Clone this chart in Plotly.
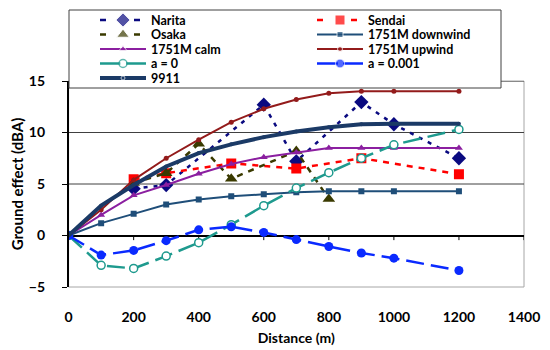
import plotly.graph_objects as go

# ---------------- data ----------------
distance = [0, 100, 200, 300, 400, 500, 600, 700, 800, 900, 1000, 1200]
upwind_1751M = [0, 2.5, 5.4, 7.5, 9.3, 11.0, 12.3, 13.2, 13.8, 14.0, 14.0, 14.0]
series_9911 = [0, 2.9, 4.9, 6.7, 8.0, 8.85, 9.55, 10.1, 10.5, 10.8, 10.85, 10.85]
calm_1751M = [0, 2.0, 3.9, 4.9, 6.0, 6.95, 7.6, 8.05, 8.5, 8.5, 8.5, 8.5]
downwind_1751M = [0, 1.2, 2.1, 3.0, 3.5, 3.8, 4.0, 4.2, 4.3, 4.3, 4.3, 4.3]
a_zero = [0, -2.9, -3.2, -2.0, -0.7, 1.05, 2.9, 4.6, 6.1, 7.5, 8.8, 10.3]
a_0001 = [0, -1.9, -1.45, -0.5, 0.55, 0.85, 0.3, -0.4, -1.07, -1.7, -2.2, -3.4]

narita_x = [200, 300, 600, 700, 900, 1000, 1200]
narita_y = [4.55, 4.9, 12.7, 7.2, 12.95, 10.8, 7.5]
sendai_x = [200, 300, 500, 700, 900, 1200]
sendai_y = [5.45, 6.05, 7.0, 6.5, 7.5, 5.95]
osaka_x = [200, 300, 400, 500, 700, 800]
osaka_y = [5.1, 6.05, 8.9, 5.5, 8.2, 3.55]

x_ticks = [0, 200, 400, 600, 800, 1000, 1200, 1400]
y_ticks = [-5, 0, 5, 10, 15]
grid_values = [5, 10, 15]

# ---------------- geometry ----------------
WIN_W, WIN_H = 550, 350
OFF = 8                      # default page margin of the html body
W, H = WIN_W - OFF, WIN_H - OFF
# plot area in window pixels
PL, PR, PT, PB = 68.6, 524.0, 81.0, 287.0
FONT = "Lato"

styles = {
    "Narita": dict(line=dict(color="#0A0A80", width=2.5, dash="4px,6px"),
                   marker=dict(symbol="diamond", size=11, color="#0A0A80")),
    "Sendai": dict(line=dict(color="#FF0000", width=2.5, dash="6px,6px"),
                   marker=dict(symbol="square", size=10, color="#FF0000")),
    "Osaka": dict(line=dict(color="#3A3A00", width=2.5, dash="6px,6px"),
                  marker=dict(symbol="triangle-up", size=11, color="#3A3A00")),
    "1751M downwind": dict(line=dict(color="#1F4E79", width=2),
                           marker=dict(symbol="square", size=6, color="#1F4E79")),
    "1751M calm": dict(line=dict(color="#8B1FA0", width=2),
                       marker=dict(symbol="triangle-up", size=7, color="#8B1FA0")),
    "1751M upwind": dict(line=dict(color="#931B1B", width=2),
                         marker=dict(symbol="circle", size=5, color="#931B1B")),
    "a = 0": dict(line=dict(color="#1E9A8E", width=2.5, dash="18px,7px"),
                  marker=dict(symbol="circle", size=8, color="white",
                              line=dict(color="#1E9A8E", width=1.5))),
    "a = 0.001": dict(line=dict(color="#0A2AFF", width=2.5, dash="18px,7px"),
                      marker=dict(symbol="circle", size=9, color="#0A2AFF")),
    "9911": dict(line=dict(color="#1B3A66", width=4),
                 marker=dict(symbol="circle", size=4, color="#1B3A66")),
}

data = [
    ("Narita", narita_x, narita_y),
    ("Sendai", sendai_x, sendai_y),
    ("Osaka", osaka_x, osaka_y),
    ("1751M downwind", distance, downwind_1751M),
    ("1751M calm", distance, calm_1751M),
    ("1751M upwind", distance, upwind_1751M),
    ("a = 0", distance, a_zero),
    ("a = 0.001", distance, a_0001),
    ("9911", distance, series_9911),
]

fig = go.Figure()
for name, xs, ys in data:
    st = styles[name]
    fig.add_trace(go.Scatter(x=xs, y=ys, name=name, mode="lines+markers",
                             line=st["line"], marker=st["marker"],
                             showlegend=False, xaxis="x", yaxis="y"))

# ---------------- custom legend (window-pixel overlay axes) ----------------
legend_rows = [20, 34.5, 49, 63.5, 78]
col_marker = [123, 340]
col_text = [149, 366]
half = 23
for i, (name, _, _) in enumerate(data):
    row, col = divmod(i, 2)
    cy = legend_rows[row]
    cx = col_marker[col]
    st = styles[name]
    ln = dict(st["line"])
    if name in ("Narita", "Sendai", "Osaka"):
        ln["dash"] = "6px,28px"
    elif name in ("a = 0", "a = 0.001"):
        ln["dash"] = "21px,5px"
    mk = dict(st["marker"])
    base = mk.get("size", 6)
    mk["size"] = [0, base, 0]
    fig.add_trace(go.Scatter(x=[cx - half, cx, cx + half], y=[cy, cy, cy],
                             mode="lines+markers", line=ln, marker=mk,
                             showlegend=False, hoverinfo="skip",
                             xaxis="x2", yaxis="y2"))
    fig.add_annotation(x=col_text[col], y=cy, xref="x2", yref="y2",
                       text=name, showarrow=False, xanchor="left",
                       yanchor="middle",
                       font=dict(family=FONT, size=12.5, color="black", weight="bold"))

shapes = []
shapes.append(dict(type="rect", xref="x domain", yref="y domain", x0=0, x1=1, y0=0, y1=1,
                   line=dict(color="#A6A6A6", width=1), layer="below"))
for g in grid_values:
    shapes.append(dict(type="line", xref="x domain", yref="y", x0=0, x1=1, y0=g, y1=g,
                       line=dict(color="#404040", width=1), layer="below"))
for t in x_ticks[1:]:
    shapes.append(dict(type="line", xref="x", yref="y", x0=t, x1=t, y0=0, y1=-0.45,
                       line=dict(color="black", width=1), layer="below"))
shapes.append(dict(type="rect", xref="x2", yref="y2", x0=69, x1=501, y0=10, y1=88,
                   fillcolor="white", line=dict(color="#404040", width=1), layer="below"))

tickfont = dict(family=FONT, size=14, color="black", weight="bold")
fig.update_layout(
    width=W, height=H,
    margin=dict(l=0, r=0, t=0, b=0, autoexpand=False),
    paper_bgcolor="white", plot_bgcolor="rgba(0,0,0,0)",
    showlegend=False,
    shapes=shapes,
    xaxis=dict(domain=[(PL - OFF) / W, (PR - OFF) / W], range=[0, 1400], tickvals=x_ticks,
               showgrid=False, zeroline=False, showline=False, ticks="",
               tickfont=tickfont, ticklabelstandoff=20, anchor="y", automargin=False,
               title=dict(text="Distance (m)", standoff=9,
                          font=dict(family=FONT, size=14, color="black", weight="bold"))),
    yaxis=dict(domain=[1 - (PB - OFF) / H, 1 - (PT - OFF) / H], range=[-5, 15],
               tickvals=y_ticks,
               showgrid=False, zeroline=True, zerolinecolor="black", zerolinewidth=1.5,
               showline=True, linecolor="black", linewidth=1.5,
               ticks="outside", ticklen=5, tickcolor="black", tickwidth=1,
               tickfont=tickfont, ticklabelstandoff=14, anchor="x", automargin=False,
               title=dict(text="Ground effect (dBA)", standoff=7,
                          font=dict(family=FONT, size=15, color="black", weight="bold"))),
    xaxis2=dict(domain=[0, 1], range=[OFF, OFF + W], visible=False, anchor="y2",
                fixedrange=True, automargin=False),
    yaxis2=dict(domain=[0, 1], range=[OFF + H, OFF], visible=False, anchor="x2",
                fixedrange=True, automargin=False),
)

fig.write_html("out.html")
